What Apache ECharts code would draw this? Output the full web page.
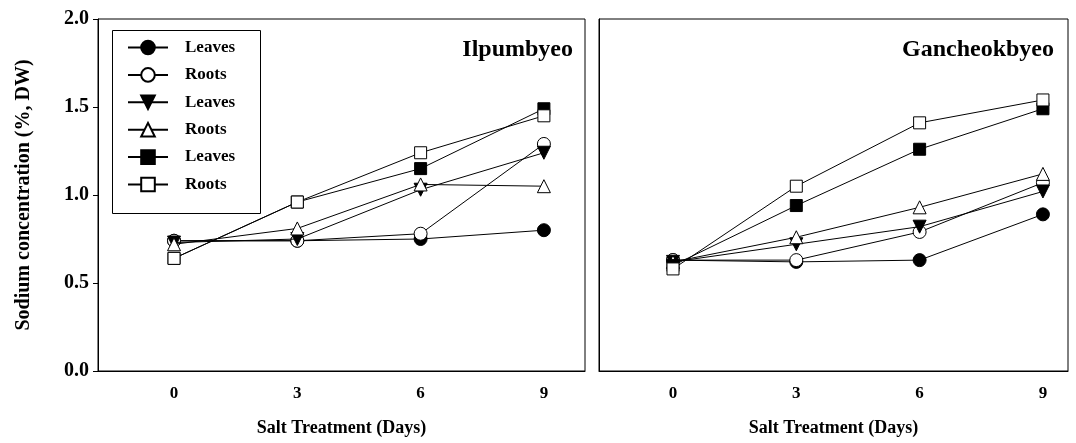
<!DOCTYPE html>
<html><head><meta charset="utf-8">
<script src="https://cdn.jsdelivr.net/npm/echarts@6/dist/echarts.min.js"></script>
<style>html,body{margin:0;padding:0;background:#fff}#c{width:1076px;height:443px}</style>
</head><body><div id="c"></div>
<script>
const days = [0, 3, 6, 9];
const xTickValues = [0, 3, 6, 9];
const yTickValues = [0, 0.5, 1.0, 1.5, 2.0];
const legendLabels = ['Leaves', 'Roots', 'Leaves', 'Roots', 'Leaves', 'Roots'];
const panelTitles = ['Ilpumbyeo', 'Gancheokbyeo'];
const yAxisTitle = 'Sodium concentration (%, DW)';
const xAxisTitle = 'Salt Treatment (Days)';

// Ilpumbyeo
const ilLeaves1 = [0.74, 0.74, 0.75, 0.80];
const ilRoots1  = [0.74, 0.74, 0.78, 1.29];
const ilLeaves2 = [0.73, 0.75, 1.03, 1.24];
const ilRoots2  = [0.72, 0.81, 1.06, 1.05];
const ilLeaves3 = [0.64, 0.96, 1.15, 1.49];
const ilRoots3  = [0.64, 0.96, 1.24, 1.45];
// Gancheokbyeo
const gaLeaves1 = [0.63, 0.62, 0.63, 0.89];
const gaRoots1  = [0.63, 0.63, 0.79, 1.07];
const gaLeaves2 = [0.62, 0.72, 0.82, 1.02];
const gaRoots2  = [0.62, 0.76, 0.93, 1.12];
const gaLeaves3 = [0.60, 0.94, 1.26, 1.49];
const gaRoots3  = [0.58, 1.05, 1.41, 1.54];

const FONT = 'Liberation Serif';
const TRI_DOWN = 'path://M0,0 L10,0 L5,9 Z';
const TRI_UP = 'path://M5,0 L10,9 L0,9 Z';
const styles = [
  {symbol: 'circle', fill: '#000', size: 13},
  {symbol: 'circle', fill: '#fff', size: 13},
  {symbol: TRI_DOWN, fill: '#000', size: 13},
  {symbol: TRI_UP, fill: '#fff', size: 13},
  {symbol: 'rect', fill: '#000', size: 12},
  {symbol: 'rect', fill: '#fff', size: 12}
];
const ilData = [ilLeaves1, ilRoots1, ilLeaves2, ilRoots2, ilLeaves3, ilRoots3];
const gaData = [gaLeaves1, gaRoots1, gaLeaves2, gaRoots2, gaLeaves3, gaRoots3];

const series = [];
const legendNames = legendLabels.map((l, i) => l + '#' + i);
function addSeries(arr, gi, prefix) {
  arr.forEach((vals, i) => {
    const st = styles[i];
    series.push({
      name: gi === 0 ? legendNames[i] : prefix + i,
      type: 'line', xAxisIndex: gi, yAxisIndex: gi,
      data: vals.map((v, k) => [days[k], v]),
      symbol: st.symbol, symbolSize: st.size, showSymbol: true,
      lineStyle: {color: '#000', width: 1},
      itemStyle: {color: st.fill, borderColor: '#000', borderWidth: 1, opacity: 1},
      emphasis: {disabled: true},
      z: 2 + i, animation: false
    });
  });
}
addSeries(ilData, 0, 'il');
addSeries(gaData, 1, 'ga');

const labelStyle = {fontFamily: FONT, fontWeight: 'bold', fontSize: 17, color: '#000'};

function xAxis(gi, min, max, name) {
  return {
    type: 'value', gridIndex: gi, min: min, max: max,
    axisLine: {show: true, onZero: false, lineStyle: {color: '#000', width: 1}},
    axisTick: {show: false},
    splitLine: {show: false},
    axisLabel: Object.assign({customValues: xTickValues, margin: 14}, labelStyle),
    name: name, nameLocation: 'middle', nameGap: 48,
    nameTextStyle: {fontFamily: FONT, fontWeight: 'bold', fontSize: 18, color: '#000'}
  };
}
function yAxis(gi, showLabels) {
  return {
    type: 'value', gridIndex: gi, min: 0, max: 2.0, interval: 0.5,
    axisLine: {show: true, onZero: false, lineStyle: {color: '#000', width: 1}},
    axisTick: {show: showLabels, length: 5, lineStyle: {color: '#000'}},
    splitLine: {show: false},
    axisLabel: Object.assign({show: showLabels, margin: 9, formatter: v => v.toFixed(1)}, labelStyle, {fontSize: 20}),
    name: showLabels ? yAxisTitle : '', nameLocation: 'middle', nameGap: 64, nameRotate: 90,
    nameTextStyle: {fontFamily: FONT, fontWeight: 'bold', fontSize: 20, color: '#000'}
  };
}

const option = {
  backgroundColor: '#fff',
  animation: false,
  grid: [
    {left: 98, top: 19, width: 487, height: 352, show: true, borderColor: '#000', borderWidth: 1, backgroundColor: 'transparent'},
    {left: 599, top: 19, width: 469, height: 352, show: true, borderColor: '#000', borderWidth: 1, backgroundColor: 'transparent'}
  ],
  xAxis: [xAxis(0, -1.85, 10, xAxisTitle), xAxis(1, -1.8, 9.61, xAxisTitle)],
  yAxis: [yAxis(0, true), yAxis(1, false)],
  title: [
    {text: panelTitles[0], right: 1076 - 578, top: 33, textStyle: {fontFamily: FONT, fontWeight: 'bold', fontSize: 24, color: '#000'}},
    {text: panelTitles[1], right: 1076 - 1059, top: 33, textStyle: {fontFamily: FONT, fontWeight: 'bold', fontSize: 24, color: '#000'}}
  ],
  legend: {
    data: legendNames, orient: 'vertical', left: 122, top: 34,
    itemWidth: 40, itemHeight: 17, itemGap: 10.4,
    formatter: n => n.split('#')[0],
    textStyle: Object.assign({padding: [0, 0, 0, 12]}, labelStyle),
    selectedMode: false
  },
  graphic: [
    {type: 'rect', left: 110, top: 28, shape: {width: 148, height: 183}, style: {fill: 'none', stroke: '#000', lineWidth: 1}, z: 100}
  ],
  series: series
};
const chart = echarts.init(document.getElementById('c'), null, {renderer: 'canvas'});
chart.setOption(option);
</script></body></html>
